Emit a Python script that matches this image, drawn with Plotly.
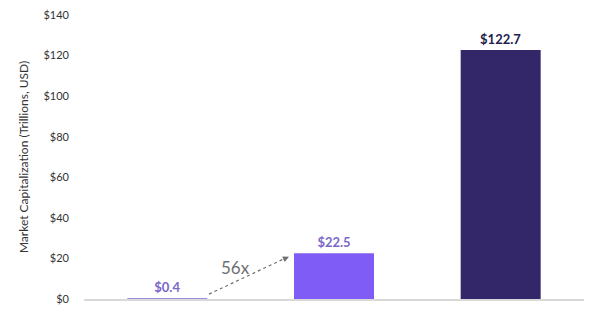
import plotly.graph_objects as go

categories = ["Category A", "Category B", "Category C"]
values = [0.4, 22.5, 122.7]
bar_colors = ["#9b8fe0", "#7f5cf6", "#33276a"]
label_colors = ["#7a68c8", "#7a68c8", "#241d4f"]
tick_vals = [0, 20, 40, 60, 80, 100, 120, 140]
tick_text = ["$0", "$20", "$40", "$60", "$80", "$100", "$120", "$140"]
multiple_label = "56x"

fig = go.Figure()
fig.add_trace(go.Bar(
    x=categories, y=values,
    marker=dict(color=bar_colors, line=dict(width=0)),
    text=[f"${v:.1f}" for v in values],
    textposition="outside",
    textfont=dict(family="Lato", size=13, color=label_colors, weight="bold"),
    cliponaxis=False,
    width=0.48,
))

# dotted arrow from first to second bar
fig.add_shape(type="line", xref="x", yref="y",
              x0=0.25, y0=2.4, x1=0.71, y1=20.2,
              line=dict(color="#707070", width=1.2, dash="dot"))
fig.add_annotation(x=0.73, y=20.8, xref="x", yref="y",
                   ax=-7, ay=3, showarrow=True, arrowhead=2, arrowsize=1,
                   arrowwidth=1.2, arrowcolor="#707070", text="")
fig.add_annotation(x=0.41, y=15.5, xref="x", yref="y", text=multiple_label,
                   showarrow=False, font=dict(family="Lato", size=17, color="#707070"))

fig.update_layout(
    width=600, height=312,
    margin=dict(l=84, r=16, t=15, b=7),
    paper_bgcolor="white", plot_bgcolor="white",
    showlegend=False,
    font=dict(family="Lato", color="#333333"),
    xaxis=dict(showticklabels=False, showgrid=False, showline=True,
               linecolor="#d9d9d9", linewidth=1.5, ticks=""),
    yaxis=dict(range=[0, 140], tickvals=tick_vals, ticktext=tick_text,
               showgrid=False, zeroline=False, showline=False,
               tickfont=dict(family="Lato", size=11, color="#333333"),
               ticklabelstandoff=14,
               title=dict(text="Market Capitalization (Trillions, USD)",
                          font=dict(family="Lato", size=12, color="#333333"),
                          standoff=12)),
)

fig.write_html("out.html")
